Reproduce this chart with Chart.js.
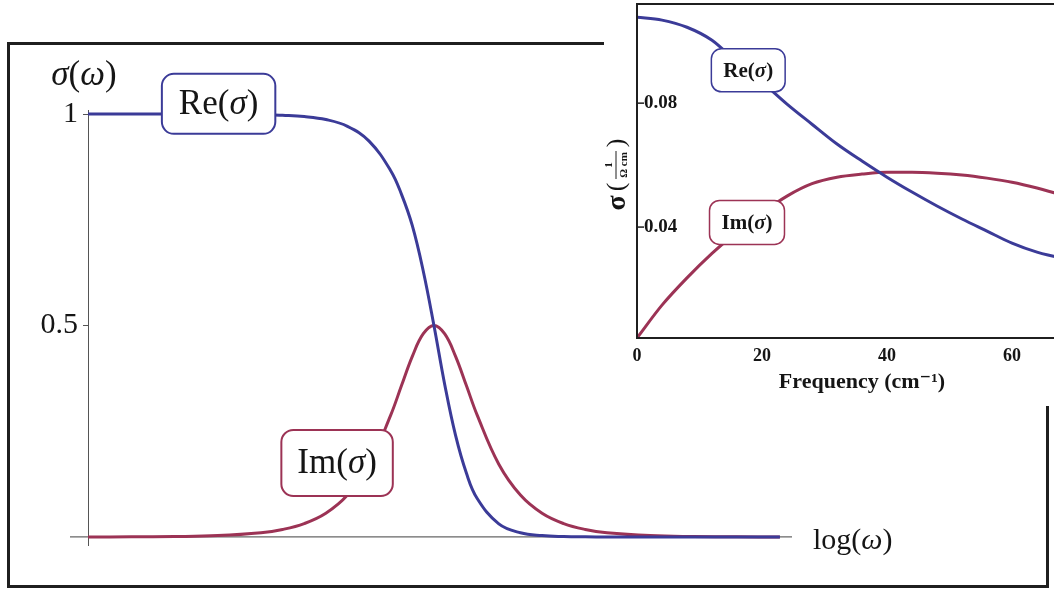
<!DOCTYPE html>
<html lang="en">
<head>
<meta charset="UTF-8" />
<title>Drude conductivity</title>
<script src="https://cdn.jsdelivr.net/npm/chart.js"></script>
<style>
  html, body { margin: 0; padding: 0; width: 1054px; height: 592px; overflow: hidden; background: #fff; }
  #frame { position: absolute; left: 7px; top: 42px; width: 1036px; height: 540px; border: 3px solid #1f1f1f; }
  #main { position: absolute; left: 0; top: 0; }
  #inset { position: absolute; left: 604px; top: 0; width: 490px; height: 406px; background: #fff; }
</style>
</head>
<body>
<div id="frame"></div>
<canvas id="main" width="1054" height="592"></canvas>
<div id="inset"><canvas id="insetChart" width="490" height="406"></canvas></div>
<script>
// main panel: sigma(omega) against log(omega)
const logOmega = [-4, -3.5, -3, -2.5, -2, -1.75, -1.5, -1.25, -1, -0.75, -0.5, -0.375, -0.25, -0.125, 0,
  0.125, 0.25, 0.375, 0.5, 0.75, 1, 1.25, 1.5, 1.75, 2, 2.5, 3, 3.5, 4];
const reSigma = [1, 1, 1, 1, 0.999, 0.997, 0.994, 0.987, 0.971, 0.936, 0.866, 0.81, 0.736, 0.63, 0.5,
  0.36, 0.24, 0.151, 0.091, 0.031, 0.0099, 0.0032, 0.001, 0.0003, 0.0001, 0, 0, 0, 0];
const imSigma = [0.0001, 0.0003, 0.001, 0.0032, 0.01, 0.0178, 0.0316, 0.056, 0.099, 0.172, 0.288, 0.358, 0.427, 0.48, 0.5,
  0.48, 0.427, 0.358, 0.288, 0.172, 0.099, 0.056, 0.0316, 0.0178, 0.01, 0.0032, 0.001, 0.0003, 0.0001];
const mainYTicks = [0.5, 1];

// inset: measured conductivity against frequency (cm^-1)
const freq = [0, 4, 8, 12, 16, 20, 24, 28, 32, 36, 40, 44, 48, 52, 56, 60, 64, 68, 72];
const reInset = [0.1077, 0.1068, 0.1045, 0.1003, 0.0932, 0.0868, 0.0797, 0.0732, 0.0668, 0.0613, 0.0561,
  0.0513, 0.0468, 0.0426, 0.0387, 0.0348, 0.0319, 0.030, 0.0287];
const imInset = [0.0042, 0.0148, 0.0236, 0.0315, 0.0385, 0.0446, 0.0500, 0.0540, 0.0561, 0.0571, 0.0577,
  0.0577, 0.0574, 0.0568, 0.0558, 0.0545, 0.0526, 0.0503, 0.0477];
const insetXTicks = [0, 20, 40, 60];
const insetYTicks = [0.04, 0.08];

const RE_COLOR = "#3b3b98";
const IM_COLOR = "#9c3355";
const SERIF = "'Liberation Serif', 'DejaVu Serif', serif";

Chart.defaults.animation = false;
Chart.defaults.responsive = false;

function pts(xs, ys) {
  return xs.map((x, i) => ({ x: x, y: ys[i] }));
}

// draw a run of text pieces (some italic) centred on cx, cy
function drawParts(ctx, parts, cx, cy, size, weight) {
  ctx.textBaseline = "middle";
  ctx.textAlign = "left";
  const fontOf = (p) => (p.italic ? "italic " : "") + weight + " " + size + "px " + SERIF;
  let total = 0;
  parts.forEach((p) => { ctx.font = fontOf(p); total += ctx.measureText(p.t).width; });
  let x = cx - total / 2;
  parts.forEach((p) => {
    ctx.font = fontOf(p);
    ctx.fillText(p.t, x, cy);
    x += ctx.measureText(p.t).width;
  });
  return total;
}

function labelBox(chart, lb) {
  const ctx = chart.ctx;
  const cx = chart.scales.x.getPixelForValue(lb.x);
  const cy = chart.scales.y.getPixelForValue(lb.y);
  ctx.save();
  let tw = 0;
  lb.parts.forEach((p) => {
    ctx.font = (p.italic ? "italic " : "") + lb.weight + " " + lb.size + "px " + SERIF;
    tw += ctx.measureText(p.t).width;
  });
  const w = tw + 2 * lb.padX, h = lb.h;
  ctx.beginPath();
  ctx.roundRect(cx - w / 2, cy - h / 2, w, h, lb.r);
  ctx.fillStyle = "#fff";
  ctx.fill();
  ctx.lineWidth = lb.lw;
  ctx.strokeStyle = lb.color;
  ctx.stroke();
  ctx.fillStyle = "#151515";
  drawParts(ctx, lb.parts, cx, cy + 1, lb.size, lb.weight);
  ctx.restore();
}

const reParts = [{ t: "Re(" }, { t: "σ", italic: true }, { t: ")" }];
const imParts = [{ t: "Im(" }, { t: "σ", italic: true }, { t: ")" }];

const mainDecor = {
  id: "mainDecor",
  beforeDatasetsDraw(chart) {
    const ctx = chart.ctx, y0 = chart.scales.y.getPixelForValue(0);
    ctx.save();
    ctx.strokeStyle = "#666";
    ctx.lineWidth = 1.2;
    ctx.beginPath();
    ctx.moveTo(chart.chartArea.left - 18, y0);
    ctx.lineTo(chart.scales.x.right, y0);
    ctx.stroke();
    ctx.restore();
  },
  afterDatasetsDraw(chart) {
    const ctx = chart.ctx, area = chart.chartArea;
    labelBox(chart, { x: -2.49, y: 1.024, parts: reParts, size: 35, weight: "normal", padX: 17, h: 60, r: 12, lw: 2, color: RE_COLOR });
    labelBox(chart, { x: -1.12, y: 0.175, parts: imParts, size: 35, weight: "normal", padX: 16, h: 66, r: 12, lw: 2, color: IM_COLOR });
    ctx.save();
    ctx.fillStyle = "#151515";
    drawParts(ctx, [{ t: "σ", italic: true }, { t: "(" }, { t: "ω", italic: true }, { t: ")" }], area.left - 4, area.top - 34, 35, "normal");
    const y0 = chart.scales.y.getPixelForValue(0);
    const parts = [{ t: "log(" }, { t: "ω", italic: true }, { t: ")" }];
    let x = chart.scales.x.right + 21;
    ctx.textAlign = "left";
    ctx.textBaseline = "middle";
    parts.forEach((p) => {
      ctx.font = (p.italic ? "italic " : "") + "normal 30px " + SERIF;
      ctx.fillText(p.t, x, y0 + 4);
      x += ctx.measureText(p.t).width;
    });
    ctx.restore();
  },
};

new Chart(document.getElementById("main"), {
  type: "line",
  data: {
    datasets: [
      { label: "Re(σ)", data: pts(logOmega, reSigma), borderColor: RE_COLOR, borderWidth: 3, pointRadius: 0, tension: 0.4 },
      { label: "Im(σ)", data: pts(logOmega, imSigma), borderColor: IM_COLOR, borderWidth: 3, pointRadius: 0, tension: 0.4 },
    ],
  },
  options: {
    layout: { padding: { top: 110, right: 262, bottom: 47, left: 0 } },
    plugins: { legend: { display: false }, tooltip: { enabled: false } },
    scales: {
      x: { type: "linear", min: -4, max: 4.14, display: false },
      y: {
        min: -0.019,
        max: 1.0095,
        afterFit(scale) { scale.width = 88; scale.paddingTop = 0; scale.paddingBottom = 0; },
        afterBuildTicks(scale) { scale.ticks = mainYTicks.map((v) => ({ value: v })); },
        ticks: { font: { family: SERIF, size: 30 }, color: "#151515", padding: 5, callback: (v) => String(v) },
        grid: { drawOnChartArea: false, tickLength: 5, color: "#555", lineWidth: 1 },
        border: { display: true, color: "#555", width: 1 },
      },
    },
  },
  plugins: [mainDecor],
});

// inset frame, inner tick marks and the rotated unit label
const insetDecor = {
  id: "insetDecor",
  afterDraw(chart) {
    const ctx = chart.ctx, a = chart.chartArea;
    ctx.save();
    ctx.strokeStyle = "#1f1f1f";
    ctx.lineWidth = 2;
    ctx.strokeRect(a.left, a.top, a.right - a.left, a.bottom - a.top);
    ctx.lineWidth = 1.5;
    insetYTicks.forEach((v) => {
      const y = chart.scales.y.getPixelForValue(v);
      ctx.beginPath();
      ctx.moveTo(a.left, y);
      ctx.lineTo(a.left + 7, y);
      ctx.stroke();
    });
    // sigma (1 / Ohm cm), written upwards
    ctx.translate(14, (a.top + a.bottom) / 2 + 4);
    ctx.rotate(-Math.PI / 2);
    ctx.fillStyle = "#151515";
    ctx.textBaseline = "middle";
    ctx.textAlign = "center";
    ctx.font = "bold 28px " + SERIF;
    ctx.fillText("σ", -28, 0);
    ctx.font = "26px " + SERIF;
    ctx.fillText("(", -12, -1);
    ctx.fillText(")", 32, -1);
    ctx.font = "bold 11px " + SERIF;
    ctx.fillText("1", 10, -9);
    ctx.fillText("Ω cm", 10, 6);
    ctx.lineWidth = 1;
    ctx.beginPath();
    ctx.moveTo(-4, -2);
    ctx.lineTo(24, -2);
    ctx.stroke();
    ctx.restore();
  },
  afterDatasetsDraw(chart) {
    labelBox(chart, { x: 17.8, y: 0.0906, parts: reParts, size: 21, weight: "bold", padX: 12, h: 43, r: 10, lw: 1.5, color: RE_COLOR });
    labelBox(chart, { x: 17.6, y: 0.0415, parts: imParts, size: 21, weight: "bold", padX: 12, h: 44, r: 10, lw: 1.5, color: IM_COLOR });
  },
};

new Chart(document.getElementById("insetChart"), {
  type: "line",
  data: {
    datasets: [
      { label: "Re(σ)", data: pts(freq, reInset), borderColor: RE_COLOR, borderWidth: 3, pointRadius: 0, cubicInterpolationMode: "monotone" },
      { label: "Im(σ)", data: pts(freq, imInset), borderColor: IM_COLOR, borderWidth: 3, pointRadius: 0, cubicInterpolationMode: "monotone" },
    ],
  },
  options: {
    layout: { padding: { top: 4, right: 7, bottom: 0, left: 0 } },
    plugins: { legend: { display: false }, tooltip: { enabled: false } },
    scales: {
      x: {
        type: "linear",
        min: 0,
        max: 72,
        afterFit(scale) { scale.height = 68; scale.paddingLeft = 0; scale.paddingRight = 0; },
        afterBuildTicks(scale) { scale.ticks = insetXTicks.map((v) => ({ value: v })); },
        ticks: { font: { family: SERIF, size: 18, weight: "bold" }, color: "#151515", padding: 0, maxRotation: 0 },
        grid: { display: false },
        border: { display: false },
        title: { display: true, text: "Frequency (cm⁻¹)", font: { family: SERIF, size: 22, weight: "bold" }, color: "#151515", padding: { top: 4, bottom: 10 } },
      },
      y: {
        min: 0.0042,
        max: 0.112,
        afterFit(scale) { scale.width = 33; scale.paddingTop = 0; scale.paddingBottom = 0; },
        afterBuildTicks(scale) { scale.ticks = insetYTicks.map((v) => ({ value: v })); },
        ticks: { mirror: true, padding: 7, font: { family: SERIF, size: 19, weight: "bold" }, color: "#151515", callback: (v) => v.toFixed(2) },
        grid: { display: false },
        border: { display: false },
      },
    },
  },
  plugins: [insetDecor],
});
</script>
</body>
</html>
